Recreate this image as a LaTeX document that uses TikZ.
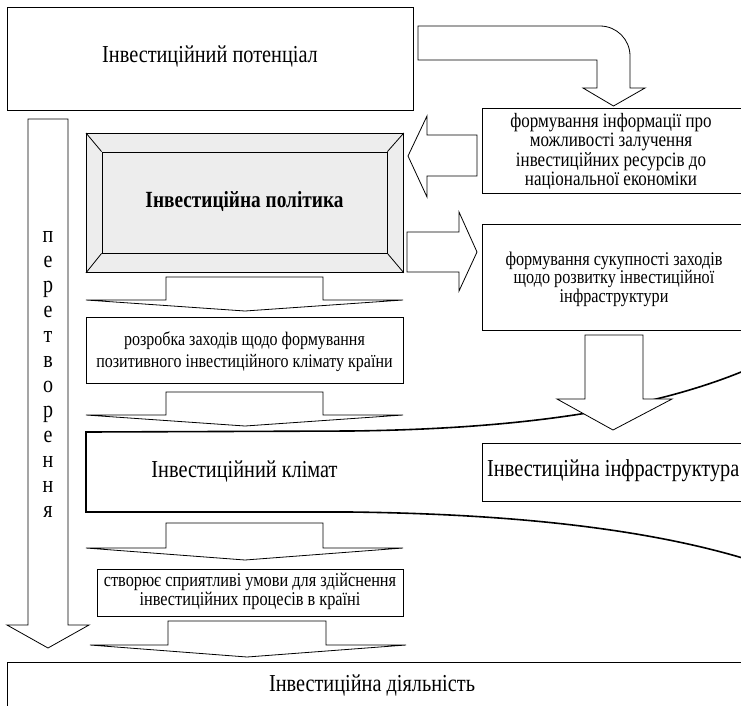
\documentclass[tikz,border=0pt]{standalone}
\usepackage{graphicx}
\usepackage{fontspec}
\setmainfont{Liberation Serif}
% text set a little taller than its width, one or more centred lines
\newcommand{\stretchtext}[1]{\scalebox{1}[1.2]{\begin{tabular}{@{}c@{}}#1\end{tabular}}}
\begin{document}
\begin{tikzpicture}[x=1pt,y=-1pt,line join=miter,
  frame/.style={draw=black,line width=0.8pt,fill=white,inner sep=0pt,anchor=north west},
  small/.style={font=\fontsize{16.3}{16}\selectfont,align=center,inner sep=0pt},
  big/.style={font=\fontsize{20.3}{20}\selectfont,inner sep=0pt},
  blockarrow/.style={draw=black,fill=white,line width=0.8pt},
  heavyline/.style={draw=black,line width=1.6pt}]
\useasboundingbox (0,0) rectangle (741,705);

% upper box and the bent arrow leaving it
\node[frame,minimum width=406pt,minimum height=103pt] (potential) at (7,7) {};
\node[big] (potentialtext) at (210,58) {\stretchtext{Інвестиційний потенціал}};
\draw[blockarrow] (418,26) -- (600,26) .. controls (616.6,26) and (630,39.4) .. (630,56)
  -- (630,88) -- (645,88) -- (613.5,106) -- (583,88) -- (597,88) -- (597,60) -- (418,60) -- cycle;

% information box
\node[frame,minimum width=264pt,minimum height=85pt] (info) at (482,108) {};
\node[small,font=\fontsize{17}{15.9}\selectfont] (infotext) at (611,152.5)
  {\stretchtext{формування інформації про\\можливості залучення\\інвестиційних ресурсів до\\національної економіки}};

% long side arrow
\draw[blockarrow] (28,119) -- (68,119) -- (68,625) -- (89,625) -- (48,648) -- (7,625) -- (28,625) -- cycle;
\node[font=\fontsize{20}{20.8}\selectfont,inner sep=0pt] (transform) at (48,375)
  {\stretchtext{п\\е\\р\\е\\т\\в\\о\\р\\е\\н\\н\\я}};

% bevelled policy box
\node[frame,fill=black!7,minimum width=317pt,minimum height=139pt] (policyouter) at (86,133) {};
\node[draw=black,line width=0.8pt,fill=black!7,minimum width=285pt,minimum height=101pt,
  font=\bfseries\fontsize{19.3}{20}\selectfont] (policy) at (244.5,202.5) {\stretchtext{Інвестиційна політика}};
\draw[line width=0.8pt] (policyouter.north west) -- (policy.north west)
  (policyouter.north east) -- (policy.north east)
  (policyouter.south west) -- (policy.south west)
  (policyouter.south east) -- (policy.south east);

% arrows between the policy box and the right-hand boxes
\draw[blockarrow] (477,135) -- (427,135) -- (427,116) -- (408,156) -- (427,197) -- (427,176) -- (477,176) -- cycle;
\draw[blockarrow] (407,232) -- (459,232) -- (459,212) -- (477,252) -- (459,291) -- (459,272) -- (407,272) -- cycle;

\node[frame,minimum width=264pt,minimum height=106pt] (measures) at (482,224) {};
\node[small,font=\fontsize{16.2}{15.25}\selectfont] (measurestext) at (614,280)
  {\stretchtext{формування сукупності заходів\\щодо розвитку інвестиційної\\інфраструктури}};

% first flat arrow and the climate measures box
\draw[blockarrow] (166,277) -- (323,277) -- (323,300) -- (403,300) -- (245,311) -- (86,300) -- (166,300) -- cycle;
\node[frame,minimum width=317pt,minimum height=66pt] (develop) at (86,317) {};
\node[small,font=\fontsize{16}{18.1}\selectfont] (developtext) at (244.5,352)
  {\stretchtext{розробка заходів щодо формування\\позитивного інвестиційного клімату країни}};
\draw[blockarrow] (166,392) -- (323,392) -- (323,415) -- (403,415) -- (245,426) -- (86,415) -- (166,415) -- cycle;

% climate band opening to the right
\draw[heavyline] (746,370) .. controls (650,410) and (520,429) .. (350,431) -- (86,432)
  -- (86,512) -- (350,512) .. controls (520,514) and (650,530) .. (746,559);
\node[big] (climate) at (244.5,473) {\stretchtext{Інвестиційний клімат}};

% infrastructure box and its incoming arrow
\node[frame,minimum width=270pt,minimum height=58pt] (infra) at (482,443) {};
\node[big,anchor=west] (infratext) at (487,472) {\stretchtext{Інвестиційна інфраструктура}};
\draw[blockarrow] (585,335) -- (643,335) -- (643,399) -- (672,399) -- (613,430) -- (557,399) -- (585,399) -- cycle;

% lower chain
\draw[blockarrow] (166,523) -- (323,523) -- (323,548) -- (403,548) -- (245,560) -- (86,548) -- (166,548) -- cycle;
\node[frame,minimum width=306pt,minimum height=47pt] (conditions) at (97,569) {};
\node[small,font=\fontsize{16.3}{15.8}\selectfont] (conditionstext) at (250,592.5)
  {\stretchtext{створює сприятливі умови для здійснення\\інвестиційних процесів в країні}};
\draw[blockarrow] (168,621) -- (326,621) -- (326,645) -- (406,645) -- (247,657) -- (90,645) -- (168,645) -- cycle;

\node[frame,minimum width=740pt,minimum height=60pt] (activity) at (7,662) {};
\node[big] (activitytext) at (372,687) {\stretchtext{Інвестиційна діяльність}};
\end{tikzpicture}
\end{document}
